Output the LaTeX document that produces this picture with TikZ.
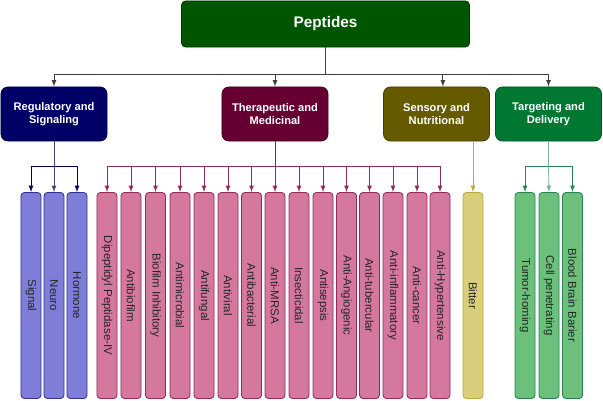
\documentclass[tikz,border=0pt]{standalone}
\usepackage{fontspec}
\usepackage{graphicx}
\setmainfont{Liberation Sans}

\definecolor{pepfill}{RGB}{0,85,0}
\definecolor{pepline}{RGB}{0,55,0}
\definecolor{regfill}{RGB}{0,0,102}
\definecolor{therfill}{RGB}{102,0,51}
\definecolor{senfill}{RGB}{102,90,0}
\definecolor{tarfill}{RGB}{0,120,50}
\definecolor{bluefill}{RGB}{126,126,216}
\definecolor{blueline}{RGB}{50,50,150}
\definecolor{pinkfill}{RGB}{212,120,158}
\definecolor{pinkline}{RGB}{150,40,90}
\definecolor{yelfill}{RGB}{217,206,123}
\definecolor{yelline}{RGB}{185,170,60}
\definecolor{grnfill}{RGB}{108,192,124}
\definecolor{grnline}{RGB}{40,130,80}

\tikzset{
	rootbox/.style={draw=pepline, fill=pepfill, text=white, rounded corners=3pt, line width=0.6pt,
		minimum width=7.2cm, minimum height=1.15cm, font=\bfseries\fontsize{10.9}{13}\selectfont},
	groupbox/.style={draw=#1!70!black, fill=#1, text=white, rounded corners=5pt, line width=0.6pt,
		minimum width=2.65cm, minimum height=1.35cm, align=center, font=\bfseries\fontsize{7.9}{9.6}\selectfont},
	leafbox/.style={draw=#1line, fill=#1fill, text=black!85, rounded corners=2.5pt, line width=0.6pt,
		inner sep=0pt, minimum width=0.5cm, minimum height=5.15cm, font=\fontsize{8.15}{9.5}\selectfont},
}
\newcommand{\vlabel}[1]{\rotatebox{-90}{#1}}

\begin{document}
\begin{tikzpicture}[x=0.025cm, y=-0.025cm]
	\useasboundingbox (0,0) rectangle (603,400);
	% bus levels
	\coordinate (topbus) at (0,74);
	\coordinate (lowbus) at (0,166);

	% root and groups
	\node[rootbox] (pep) at (325.5,24) {Peptides};
	\node[groupbox=regfill] (reg) at (54,114) {Regulatory and\\Signaling};
	\node[groupbox=therfill] (ther) at (275,114) {Therapeutic and\\Medicinal};
	\node[groupbox=senfill] (sen) at (436.5,114) {Sensory and\\Nutritional};
	\node[groupbox=tarfill] (tar) at (548.5,114) {Targeting and\\Delivery};

	% regulatory and signaling
	\node[leafbox=blue] (sig) at (31,295.5) {\vlabel{Signal}};
	\node[leafbox=blue] (neu) at (54,295.5) {\vlabel{Neuro}};
	\node[leafbox=blue] (hor) at (77,295.5) {\vlabel{Hormone}};

	% therapeutic and medicinal
	\node[leafbox=pink] (dpp) at (107,295.5) {\vlabel{Dipeptidyl Peptidase-IV}};
	\node[leafbox=pink] (abf) at (131,295.5) {\vlabel{Antibiofilm}};
	\node[leafbox=pink] (bfi) at (155.5,295.5) {\vlabel{Biofilm Inhibitory}};
	\node[leafbox=pink] (amc) at (180,295.5) {\vlabel{Antimicrobial}};
	\node[leafbox=pink] (afu) at (204,295.5) {\vlabel{Antifungal}};
	\node[leafbox=pink] (avi) at (228,295.5) {\vlabel{Antiviral}};
	\node[leafbox=pink] (aba) at (251.5,295.5) {\vlabel{Antibacterial}};
	\node[leafbox=pink] (mrsa) at (275,295.5) {\vlabel{Anti-MRSA}};
	\node[leafbox=pink] (ins) at (299,295.5) {\vlabel{Insecticidal}};
	\node[leafbox=pink] (ase) at (323,295.5) {\vlabel{Antisepsis}};
	\node[leafbox=pink] (ang) at (346.5,295.5) {\vlabel{Anti-Angiogenic}};
	\node[leafbox=pink] (tub) at (369.5,295.5) {\vlabel{Anti-tubercular}};
	\node[leafbox=pink] (inf) at (393,295.5) {\vlabel{Anti-inflammatory}};
	\node[leafbox=pink] (can) at (417,295.5) {\vlabel{Anti-cancer}};
	\node[leafbox=pink] (hyp) at (440,295.5) {\vlabel{Anti-Hypertensive}};

	% sensory and nutritional
	\node[leafbox=yel] (bit) at (473,295.5) {\vlabel{Bitter}};

	% targeting and delivery
	\node[leafbox=grn] (tum) at (525,295.5) {\vlabel{Tumor-homing}};
	\node[leafbox=grn] (cel) at (549,295.5) {\vlabel{Cell penetrating}};
	\node[leafbox=grn] (bbb) at (572.5,295.5) {\vlabel{Blood Brain Barier}};

	% root to groups
	\draw[black!75, line width=0.6pt] (pep.south) -- (pep.south |- topbus);
	\draw[-latex, black!75, line width=0.6pt] (pep.south |- topbus) -| (reg.north);
	\draw[-latex, black!75, line width=0.6pt] (pep.south |- topbus) -| (ther.north);
	\draw[-latex, black!75, line width=0.6pt] (pep.south |- topbus) -| ([xshift=0.16cm]sen.north);
	\draw[-latex, black!75, line width=0.6pt] (pep.south |- topbus) -| (tar.north);

	% groups to leaves
	\draw[regfill!45!gray, line width=0.6pt] (reg.south) -- (reg.south |- lowbus);
	\draw[-latex, regfill, line width=0.6pt] (reg.south |- lowbus) -| (sig.north);
	\draw[-latex, regfill!45!gray, line width=0.6pt] (reg.south |- lowbus) -- (neu.north);
	\draw[-latex, regfill, line width=0.6pt] (reg.south |- lowbus) -| (hor.north);

	\draw[therfill!70!pinkfill, line width=0.6pt] (ther.south) -- (ther.south |- lowbus);
	\draw[-latex, pinkline, line width=0.6pt] (ther.south |- lowbus) -| (dpp.north);
	\draw[-latex, pinkline, line width=0.6pt] (ther.south |- lowbus) -| (abf.north);
	\draw[-latex, pinkline, line width=0.6pt] (ther.south |- lowbus) -| (bfi.north);
	\draw[-latex, pinkline, line width=0.6pt] (ther.south |- lowbus) -| (amc.north);
	\draw[-latex, pinkline, line width=0.6pt] (ther.south |- lowbus) -| (afu.north);
	\draw[-latex, pinkline, line width=0.6pt] (ther.south |- lowbus) -| (avi.north);
	\draw[-latex, pinkline, line width=0.6pt] (ther.south |- lowbus) -| (aba.north);
	\draw[-latex, pinkline, line width=0.6pt] (ther.south |- lowbus) -- (mrsa.north);
	\draw[-latex, pinkline, line width=0.6pt] (ther.south |- lowbus) -| (ins.north);
	\draw[-latex, pinkline, line width=0.6pt] (ther.south |- lowbus) -| (ase.north);
	\draw[-latex, pinkline, line width=0.6pt] (ther.south |- lowbus) -| (ang.north);
	\draw[-latex, pinkline, line width=0.6pt] (ther.south |- lowbus) -| (tub.north);
	\draw[-latex, pinkline, line width=0.6pt] (ther.south |- lowbus) -| (inf.north);
	\draw[-latex, pinkline, line width=0.6pt] (ther.south |- lowbus) -| (can.north);
	\draw[-latex, pinkline, line width=0.6pt] (ther.south |- lowbus) -| (hyp.north);

	\draw[-latex, yelline, line width=0.6pt] (sen.south -| bit.north) -- (bit.north);

	\draw[grnline!60!white, line width=0.6pt] (tar.south) -- (tar.south |- lowbus);
	\draw[-latex, grnline, line width=0.6pt] (tar.south |- lowbus) -| (tum.north);
	\draw[-latex, grnline!60!white, line width=0.6pt] (tar.south |- lowbus) -- (cel.north);
	\draw[-latex, grnline, line width=0.6pt] (tar.south |- lowbus) -| (bbb.north);
\end{tikzpicture}
\end{document}
